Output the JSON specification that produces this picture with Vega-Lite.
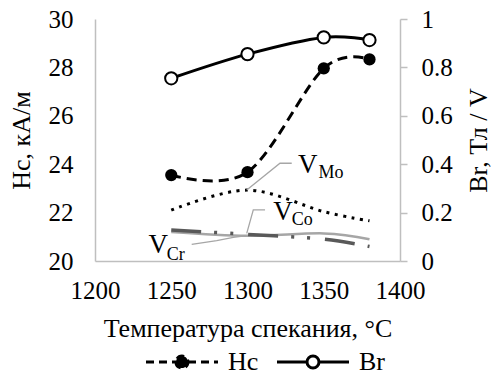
{
  "$schema": "https://vega.github.io/schema/vega-lite/v6.json",
  "width": 305,
  "height": 242,
  "autosize": {"type": "none"},
  "padding": {"left": 95, "top": 19, "right": 94, "bottom": 115},
  "background": "white",
  "config": {
    "view": {"stroke": null},
    "style": {
      "guide-label": {"font": "Liberation Serif", "fill": "black"},
      "guide-title": {"font": "Liberation Serif", "fill": "black"}
    },
    "axis": {
      "grid": false,
      "labelFont": "Liberation Serif",
      "titleFont": "Liberation Serif",
      "labelColor": "black",
      "titleColor": "black",
      "titleFontWeight": "normal",
      "labelFontSize": 25,
      "titleFontSize": 26,
      "domainColor": "#bfbfbf",
      "domainWidth": 1.5,
      "tickColor": "#bfbfbf",
      "tickWidth": 1.5,
      "labelOverlap": false,
      "labelFlush": false
    },
    "legend": {"labelFont": "Liberation Serif"}
  },
  "datasets": {
    "main": [
      {"s": "Hc", "T": 1250, "v": 23.55},
      {"s": "Hc", "T": 1300, "v": 23.67},
      {"s": "Hc", "T": 1350, "v": 27.96},
      {"s": "Hc", "T": 1380, "v": 28.33},
      {"s": "Br", "T": 1250, "v": 0.755},
      {"s": "Br", "T": 1300, "v": 0.855},
      {"s": "Br", "T": 1350, "v": 0.924},
      {"s": "Br", "T": 1380, "v": 0.913},
      {"s": "VMo", "T": 1250, "v": 0.21},
      {"s": "VMo", "T": 1300, "v": 0.293},
      {"s": "VMo", "T": 1350, "v": 0.204},
      {"s": "VMo", "T": 1380, "v": 0.166},
      {"s": "VCo", "T": 1250, "v": 0.128},
      {"s": "VCo", "T": 1300, "v": 0.11},
      {"s": "VCo", "T": 1350, "v": 0.09},
      {"s": "VCo", "T": 1380, "v": 0.06},
      {"s": "VCr", "T": 1250, "v": 0.12},
      {"s": "VCr", "T": 1300, "v": 0.104},
      {"s": "VCr", "T": 1350, "v": 0.114},
      {"s": "VCr", "T": 1380, "v": 0.09}
    ],
    "labels": [
      {"k": "V", "t": "V", "T": 1333.1, "v": 0.364},
      {"k": "sub", "t": "Mo", "T": 1346.6, "v": 0.343},
      {"k": "V", "t": "V", "T": 1316.9, "v": 0.169},
      {"k": "sub", "t": "Co", "T": 1329, "v": 0.149},
      {"k": "V", "t": "V", "T": 1235, "v": 0.031},
      {"k": "sub", "t": "Cr", "T": 1247, "v": 0.006}
    ],
    "leaders": [
      {"id": "Mo", "o": 1, "T": 1299.5, "v": 0.293},
      {"id": "Mo", "o": 2, "T": 1321.3, "v": 0.404},
      {"id": "Mo", "o": 3, "T": 1329, "v": 0.404},
      {"id": "Co", "o": 1, "T": 1299.5, "v": 0.114},
      {"id": "Co", "o": 2, "T": 1303.8, "v": 0.211},
      {"id": "Co", "o": 3, "T": 1311.5, "v": 0.211},
      {"id": "Cr", "o": 1, "T": 1263.4, "v": 0.069},
      {"id": "Cr", "o": 2, "T": 1279.8, "v": 0.084},
      {"id": "Cr", "o": 3, "T": 1290.7, "v": 0.098},
      {"id": "Cr", "o": 4, "T": 1299.5, "v": 0.105}
    ]
  },
  "encoding": {
    "x": {
      "field": "T",
      "type": "quantitative",
      "scale": {"domain": [1200, 1400], "nice": false, "zero": false},
      "axis": {
        "values": [1200, 1250, 1300, 1350, 1400],
        "format": "d",
        "labelFont": "Liberation Serif",
        "labelFontSize": 25,
        "ticks": false,
        "labelPadding": 17,
        "title": "Температура спекания, °С",
        "titleFont": "Liberation Serif",
        "titlePadding": 12
      }
    }
  },
  "layer": [
    {
      "encoding": {
        "y": {
          "field": "v",
          "type": "quantitative",
          "scale": {"domain": [20, 30], "nice": false, "zero": false},
          "axis": {
            "orient": "left",
            "values": [20, 22, 24, 26, 28, 30],
            "format": "d",
            "labelFont": "Liberation Serif",
            "labelFontSize": 25,
            "ticks": false,
            "labelPadding": 22,
            "title": "Hc, кА/м",
            "titleFont": "Liberation Serif",
            "titlePadding": 14
          }
        }
      },
      "layer": [
        {
          "data": {"name": "main"},
          "transform": [{"filter": "datum.s === 'Hc'"}],
          "mark": {"type": "line", "interpolate": "cardinal", "strokeDash": [10, 6], "strokeWidth": 3},
          "encoding": {
            "stroke": {
              "field": "s",
              "type": "nominal",
              "scale": {"domain": ["Hc", "Br"], "range": ["black", "black"]},
              "legend": {
                "orient": "none",
                "legendX": 74,
                "legendY": 330,
                "direction": "horizontal",
                "title": null,
                "symbolType": "M-6,0H-1M1,0H6M-1,0A1,1 0 1,0 1,0A1,1 0 1,0 -1,0",
                "symbolSize": 144,
                "symbolStrokeWidth": 3,
                "symbolStrokeColor": "black",
                "labelFont": "Liberation Serif",
                "labelFontSize": 26,
                "labelColor": "black",
                "labelOffset": 33,
                "columnPadding": 12,
                "encode": {
                  "labels": {
                    "update": {"font": {"value": "Liberation Serif"}}
                  },
                  "symbols": {
                    "update": {
                      "fill": {"signal": "datum.value === 'Hc' ? 'black' : 'white'"},
                      "strokeDash": {"signal": "datum.value === 'Hc' ? [8, 5] : []"}
                    }
                  }
                }
              }
            }
          }
        },
        {
          "data": {"name": "main"},
          "transform": [{"filter": "datum.s === 'Hc'"}],
          "mark": {"type": "point", "shape": "circle", "filled": true, "size": 150, "color": "black", "opacity": 1}
        }
      ]
    },
    {
      "encoding": {
        "y": {
          "field": "v",
          "type": "quantitative",
          "scale": {"domain": [0, 1], "nice": false},
          "axis": {
            "orient": "right",
            "values": [0, 0.2, 0.4, 0.6, 0.8, 1],
            "format": "~g",
            "labelFont": "Liberation Serif",
            "labelFontSize": 25,
            "ticks": true,
            "tickSize": 7,
            "labelPadding": 14,
            "title": "Br, Тл / V",
            "titleFont": "Liberation Serif",
            "titleAngle": -90,
            "titleBaseline": "middle",
            "titleX": 78
          }
        }
      },
      "layer": [
        {
          "data": {"name": "main"},
          "transform": [{"filter": "datum.s === 'VCr'"}],
          "mark": {"type": "line", "interpolate": "cardinal", "strokeWidth": 2.5, "color": "#a6a6a6"}
        },
        {
          "data": {"name": "main"},
          "transform": [{"filter": "datum.s === 'VCo'"}],
          "mark": {"type": "line", "interpolate": "cardinal", "strokeWidth": 3.5, "color": "#595959", "strokeDash": [30, 13, 3, 13, 3, 15]}
        },
        {
          "data": {"name": "main"},
          "transform": [{"filter": "datum.s === 'VMo'"}],
          "mark": {"type": "line", "interpolate": "cardinal", "strokeWidth": 3, "color": "black", "strokeDash": [3, 5.5]}
        },
        {
          "data": {"name": "leaders"},
          "mark": {"type": "line", "strokeWidth": 1.3, "color": "#a6a6a6"},
          "encoding": {
            "detail": {"field": "id"},
            "order": {"field": "o", "type": "quantitative"}
          }
        },
        {
          "data": {"name": "labels"},
          "transform": [{"filter": "datum.k === 'V'"}],
          "mark": {"type": "text", "align": "left", "baseline": "alphabetic", "fontSize": 27, "font": "Liberation Serif", "color": "black"},
          "encoding": {"text": {"field": "t"}}
        },
        {
          "data": {"name": "labels"},
          "transform": [{"filter": "datum.k === 'sub'"}],
          "mark": {"type": "text", "align": "left", "baseline": "alphabetic", "fontSize": 18, "font": "Liberation Serif", "color": "black"},
          "encoding": {"text": {"field": "t"}}
        },
        {
          "data": {"name": "main"},
          "transform": [{"filter": "datum.s === 'Br'"}],
          "mark": {"type": "line", "interpolate": "cardinal", "strokeWidth": 3},
          "encoding": {
            "stroke": {
              "field": "s",
              "type": "nominal",
              "scale": {"domain": ["Hc", "Br"], "range": ["black", "black"]}
            }
          }
        },
        {
          "data": {"name": "main"},
          "transform": [{"filter": "datum.s === 'Br'"}],
          "mark": {"type": "point", "shape": "circle", "filled": true, "size": 150, "fill": "white", "stroke": "black", "strokeWidth": 2, "opacity": 1}
        }
      ]
    }
  ],
  "resolve": {"scale": {"y": "independent"}}
}
